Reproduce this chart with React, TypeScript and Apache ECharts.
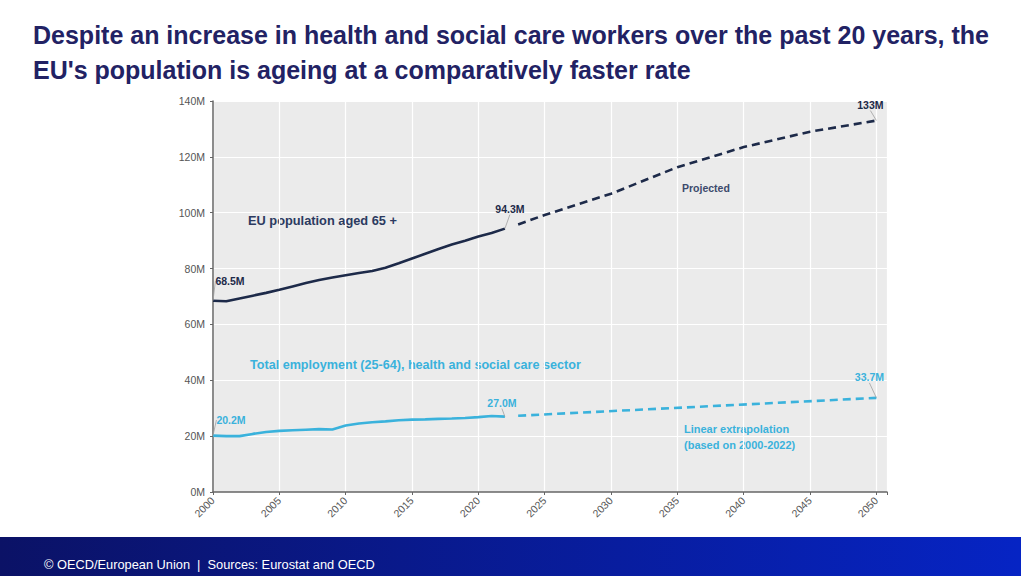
import React, { useEffect, useRef } from "react";
import * as echarts from "echarts";

const histYears = [2000, 2001, 2002, 2003, 2004, 2005, 2006, 2007, 2008, 2009, 2010, 2011, 2012, 2013, 2014, 2015, 2016, 2017, 2018, 2019, 2020, 2021, 2022];
const popHist = [68.5, 68.3, 69.3, 70.3, 71.3, 72.4, 73.6, 74.8, 75.9, 76.8, 77.6, 78.4, 79.1, 80.3, 81.9, 83.6, 85.3, 87.0, 88.6, 90.0, 91.5, 92.7, 94.3];
const empHist = [20.2, 20.0, 20.0, 20.8, 21.5, 21.9, 22.1, 22.3, 22.5, 22.4, 23.8, 24.5, 25.0, 25.3, 25.7, 25.9, 26.0, 26.2, 26.3, 26.5, 26.8, 27.2, 27.0];
const projYears = [2023, 2025, 2030, 2035, 2040, 2045, 2050];
const popProj = [95.8, 99.2, 106.8, 116.3, 123.5, 129.0, 133.0];
const extYears = [2023, 2050];
const empExt = [27.3, 33.7];

const TITLE = "Despite an increase in health and social care workers over the past 20 years, the\nEU's population is ageing at a comparatively faster rate";
const FOOTER = "© OECD/European Union  |  Sources: Eurostat and OECD";

const NAVY = "#1d2a49";
const CYAN = "#3ab2dc";

export default function App() {
  const ref = useRef<HTMLDivElement>(null);
  useEffect(() => {
    const chart = echarts.init(ref.current!, null, { renderer: "svg" });
    const font = "Arial, Liberation Sans, sans-serif";
    const mk = (xs: number[], ys: number[], labels: Record<number, any>, color: string) =>
      xs.map((x, i) =>
        labels[i]
          ? { value: [x, ys[i]], label: { show: true, formatter: labels[i].text, position: "top", color, fontSize: 10.5, fontWeight: "bold", fontFamily: font } }
          : { value: [x, ys[i]] }
      );
    const popLabels: Record<number, any> = { 0: { dx: 17, dy: -9, text: "68.5M" }, 22: { dx: 5, dy: -9, text: "94.3M" } };
    const projLabels: Record<number, any> = { 6: { dx: -6, dy: -5, text: "133M" } };
    const empLabels: Record<number, any> = { 0: { dx: 18, dy: -5, text: "20.2M" }, 22: { dx: -3, dy: -3, text: "27.0M" } };
    const extLabels: Record<number, any> = { 1: { dx: -7, dy: -10, text: "33.7M" } };
    const layoutFor = (labels: Record<number, any>) => (p: any) => {
      const l = labels[p.dataIndex];
      return l ? { dx: l.dx, dy: l.dy } : {};
    };
    const common = {
      type: "line",
      showSymbol: true,
      symbol: "circle",
      symbolSize: 0.1,
      labelLine: { show: true, lineStyle: { color: "#a0a0a0", width: 0.8 } },
      z: 3,
    };
    chart.setOption({
      animation: false,
      title: {
        text: TITLE,
        left: 28,
        top: 12,
        textStyle: { fontSize: 25, fontWeight: "bold", color: "#222264", fontFamily: font, lineHeight: 35 },
      },
      grid: { left: 213, top: 101, right: 134, bottom: 84, show: true, backgroundColor: "#ebebeb", borderWidth: 0 },
      xAxis: {
        type: "value",
        min: 2000,
        max: 2050.8,
        interval: 5,
        axisLine: { show: true, lineStyle: { color: "#666", width: 1.5 } },
        axisTick: { show: true, length: 3, lineStyle: { color: "#666" } },
        axisLabel: {
          rotate: 45,
          fontSize: 10.5,
          color: "#555",
          fontFamily: font,
          margin: 7,
          formatter: (v: number) => (Math.abs(v % 5) < 1e-6 ? String(v) : ""),
        },
        splitLine: { show: true, lineStyle: { color: "#ffffff", width: 1.2 } },
      },
      yAxis: {
        type: "value",
        min: 0,
        max: 140,
        interval: 20,
        axisLine: { show: true, lineStyle: { color: "#666", width: 1.5 } },
        axisTick: { show: true, length: 3, lineStyle: { color: "#666" } },
        axisLabel: { fontSize: 10.5, color: "#555", fontFamily: font, margin: 8, formatter: (v: number) => v + "M" },
        splitLine: { show: true, lineStyle: { color: "#ffffff", width: 1.2 } },
      },
      series: [
        {
          ...common,
          data: mk(histYears, popHist, popLabels, NAVY),
          lineStyle: { color: NAVY, width: 2.6 },
          itemStyle: { color: NAVY },
          labelLayout: layoutFor(popLabels),
        },
        {
          ...common,
          data: mk(projYears, popProj, projLabels, NAVY),
          lineStyle: { color: NAVY, width: 2.6, type: [8, 5] },
          itemStyle: { color: NAVY },
          labelLayout: layoutFor(projLabels),
        },
        {
          ...common,
          data: mk(histYears, empHist, empLabels, CYAN),
          lineStyle: { color: CYAN, width: 2.6 },
          itemStyle: { color: CYAN },
          labelLayout: layoutFor(empLabels),
        },
        {
          ...common,
          data: mk(extYears, empExt, extLabels, CYAN),
          lineStyle: { color: CYAN, width: 2.6, type: [8, 5] },
          itemStyle: { color: CYAN },
          labelLayout: layoutFor(extLabels),
        },
      ],
      graphic: [
        { type: "text", left: 248, top: 214, style: { text: "EU population aged 65 +", fill: "#2b3a60", font: `bold 12.8px ${font}` } },
        { type: "text", left: 682, top: 182, style: { text: "Projected", fill: "#3c4a6c", font: `bold 10.5px ${font}` } },
        { type: "text", left: 250, top: 358, style: { text: "Total employment (25-64), health and social care sector", fill: CYAN, font: `bold 12.6px ${font}` } },
        { type: "text", left: 684, top: 421, style: { text: "Linear extrapolation\n(based on 2000-2022)", fill: CYAN, font: `bold 11px ${font}`, lineHeight: 16 } },
        {
          type: "rect",
          left: 0,
          top: 537,
          shape: { width: 1021, height: 39 },
          style: {
            fill: new echarts.graphic.LinearGradient(0, 0, 1, 0, [
              { offset: 0, color: "#0b1266" },
              { offset: 1, color: "#0624c4" },
            ]),
          },
        },
        { type: "text", left: 44, top: 558, style: { text: FOOTER, fill: "#ffffff", font: `12.8px ${font}` } },
      ],
    });
    return () => chart.dispose();
  }, []);
  return <div ref={ref} style={{ position: "absolute", left: 0, top: 0, width: 1021, height: 576, background: "#fff" }} />;
}
